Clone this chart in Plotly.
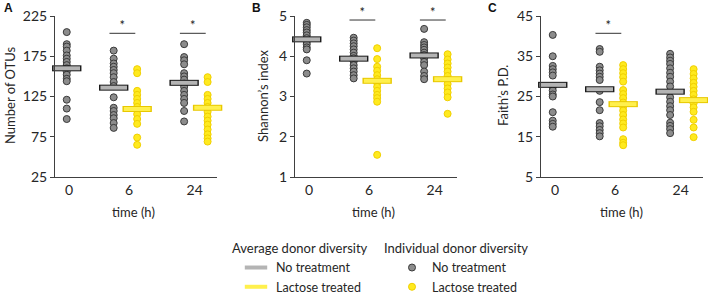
import plotly.graph_objects as go

# ---------------- data ----------------
TIMES = ["0", "6", "24"]

# Panel A: Number of OTUs
A_gray0 = [205, 190, 187, 182, 176, 172, 168, 164, 160, 156, 152, 147, 144, 121, 110, 97]
A_gray6 = [182, 172, 166, 162, 158, 154, 149, 143, 138, 124, 111, 107, 102, 98, 92, 86]
A_yel6 = [159, 154, 132, 127, 122, 117, 112, 108, 103, 97, 91, 74, 65]
A_gray24 = [190, 174, 170, 165, 154, 150, 146, 141, 137, 132, 127, 122, 117, 107, 94]
A_yel24 = [149, 143, 127, 122, 117, 112, 106, 100, 95, 90, 84, 78, 73, 69]
A_gray_mean = [160, 136, 142]
A_yel_mean = [109.5, 111]
A_sig = 203.5

# Panel B: Shannon's index
B_gray0 = [4.83, 4.78, 4.72, 4.65, 4.59, 4.52, 4.45, 4.36, 4.30, 4.22, 4.17, 3.90, 3.57]
B_gray6 = [4.46, 4.39, 4.32, 4.25, 4.17, 4.09, 4.01, 3.95, 3.87, 3.78, 3.70, 3.62, 3.53, 3.45]
B_yel6 = [4.20, 3.93, 3.74, 3.64, 3.53, 3.43, 3.34, 3.24, 3.14, 3.04, 2.96, 2.87, 1.55]
B_gray24 = [4.68, 4.35, 4.28, 4.22, 4.16, 4.09, 4.03, 3.95, 3.86, 3.78, 3.62, 3.51, 3.43]
B_yel24 = [4.05, 3.92, 3.82, 3.72, 3.62, 3.51, 3.41, 3.31, 3.20, 3.10, 2.98, 2.57]
B_gray_mean = [4.42, 3.94, 4.02]
B_yel_mean = [3.39, 3.43]
B_sig = 4.90

# Panel C: Faith's P.D.
C_gray0 = [40.3, 35.0, 32.6, 31.8, 31.0, 30.2, 27.3, 26.5, 25.5, 25.0, 21.1, 19.0, 18.2, 17.5]
C_gray6 = [36.8, 36.1, 32.4, 31.5, 30.7, 29.9, 29.1, 26.4, 23.6, 21.6, 18.4, 17.6, 16.7, 15.9, 15.1]
C_yel6 = [32.8, 31.8, 30.8, 29.8, 28.7, 26.6, 25.6, 24.6, 23.5, 22.5, 21.5, 20.4, 19.3, 18.3, 17.3, 14.4, 13.5, 12.9]
C_gray24 = [35.6, 34.7, 33.9, 33.1, 32.0, 30.9, 29.9, 28.7, 27.5, 24.8, 23.7, 22.6, 21.6, 20.4, 18.5, 17.7, 16.9, 15.9]
C_yel24 = [31.8, 30.6, 29.5, 28.4, 27.4, 26.4, 25.4, 24.3, 23.3, 22.3, 21.2, 19.2, 17.3, 14.9]
C_gray_mean = [27.9, 26.8, 26.2]
C_yel_mean = [23.1, 24.1]
C_sig = 40.7

PANELS = [
    dict(letter="A", ytitle="Number of OTUs", yrange=[25, 225], yticks=[25, 75, 125, 175, 225],
         gray=[A_gray0, A_gray6, A_gray24], yel=[A_yel6, A_yel24],
         gmean=A_gray_mean, ymean=A_yel_mean, sig=A_sig, sig_groups=[1, 2]),
    dict(letter="B", ytitle="Shannon\u2019s index", yrange=[1, 5], yticks=[1, 2, 3, 4, 5],
         gray=[B_gray0, B_gray6, B_gray24], yel=[B_yel6, B_yel24],
         gmean=B_gray_mean, ymean=B_yel_mean, sig=B_sig, sig_groups=[1, 2]),
    dict(letter="C", ytitle="Faith\u2019s P.D.", yrange=[5, 45], yticks=[5, 15, 25, 35, 45],
         gray=[C_gray0, C_gray6, C_gray24], yel=[C_yel6, C_yel24],
         gmean=C_gray_mean, ymean=C_yel_mean, sig=C_sig, sig_groups=[1]),
]

# ---------------- layout constants ----------------
W, H = 708, 296
GRAY_POS = [0, 2, 5]      # slot of the untreated column at 0, 6, 24 h
YEL_POS = [3, 6]          # slot of the lactose column at 6, 24 h
TICK_POS = [0.1, 2.65, 5.45]
XRANGE = [-0.5, 6.4]
AXIS_LEFT = [55, 295, 541]   # px
AXIS_W = 162
Y_TOP, Y_BOT = 16, 177
LETTER_X = [8, 256.5, 492.5]
YTITLE_X = [10, 263, 503]
XTITLE_X = [133, 373, 621]

FONT = "Lato, 'Open Sans', Arial, sans-serif"
TXT = "#262626"
GRAY_FILL, GRAY_LINE = "#8c8c8c", "#3a3a3a"
YEL_FILL, YEL_LINE = "#ffea1f", "#f0cf00"
BAR_GRAY_FILL, BAR_GRAY_LINE = "#b4b4b4", "#1a1a1a"
BAR_YEL_FILL, BAR_YEL_LINE = "#fff04d", "#e8c800"

fig = go.Figure()

for i, p in enumerate(PANELS):
    xa = "x" if i == 0 else f"x{i+1}"
    ya = "y" if i == 0 else f"y{i+1}"
    first = i == 0
    # individual dots, untreated
    gx, gy = [], []
    for g, vals in enumerate(p["gray"]):
        gx += [GRAY_POS[g]] * len(vals)
        gy += vals
    fig.add_trace(go.Scatter(
        x=gx, y=gy, mode="markers", xaxis=xa, yaxis=ya, cliponaxis=False,
        marker=dict(symbol="circle", size=7, color=GRAY_FILL, line=dict(color=GRAY_LINE, width=1)),
        name="No treatment", legend="legend2", legendgroup="ind_no", showlegend=first,
        hoverinfo="skip"))
    yx, yy = [], []
    for g, vals in enumerate(p["yel"]):
        yx += [YEL_POS[g]] * len(vals)
        yy += vals
    fig.add_trace(go.Scatter(
        x=yx, y=yy, mode="markers", xaxis=xa, yaxis=ya, cliponaxis=False,
        marker=dict(symbol="circle", size=7, color=YEL_FILL, line=dict(color=YEL_LINE, width=1)),
        name="Lactose treated", legend="legend2", legendgroup="ind_lac", showlegend=first,
        hoverinfo="skip"))
    # mean bars (outline layer + fill layer)
    for pos, means, fill, edge, nm, grp in [
        (GRAY_POS, p["gmean"], BAR_GRAY_FILL, BAR_GRAY_LINE, "No treatment", "avg_no"),
        (YEL_POS, p["ymean"], BAR_YEL_FILL, BAR_YEL_LINE, "Lactose treated", "avg_lac"),
    ]:
        fig.add_trace(go.Scatter(
            x=pos, y=means, mode="markers", xaxis=xa, yaxis=ya, cliponaxis=False,
            marker=dict(symbol="line-ew", size=21, line=dict(color=edge, width=6)),
            showlegend=False, hoverinfo="skip"))
        fig.add_trace(go.Scatter(
            x=pos, y=means, mode="markers", xaxis=xa, yaxis=ya, cliponaxis=False,
            marker=dict(symbol="line-ew", size=19, line=dict(color=fill, width=4)),
            name=nm, legend="legend", legendgroup=grp, showlegend=first,
            hoverinfo="skip"))
    # significance brackets
    for g in p["sig_groups"]:
        x0, x1 = GRAY_POS[g] - 0.18, YEL_POS[g - 1] - 0.08
        fig.add_trace(go.Scatter(
            x=[x0, x1], y=[p["sig"], p["sig"]], mode="lines", xaxis=xa, yaxis=ya, cliponaxis=False,
            line=dict(color="#333333", width=1), showlegend=False, hoverinfo="skip"))
        fig.add_trace(go.Scatter(
            x=[(x0 + x1) / 2], y=[p["sig"]], mode="text", text=["*"], textposition="top center",
            textfont=dict(family=FONT, size=13, color="#222222"), xaxis=xa, yaxis=ya,
            cliponaxis=False, showlegend=False, hoverinfo="skip"))

    x0f = AXIS_LEFT[i] / W
    x1f = (AXIS_LEFT[i] + AXIS_W) / W
    yd = [(H - Y_BOT) / H, (H - Y_TOP) / H]
    xkey = "xaxis" if i == 0 else f"xaxis{i+1}"
    ykey = "yaxis" if i == 0 else f"yaxis{i+1}"
    fig.update_layout(**{
        xkey: dict(domain=[x0f, x1f], range=XRANGE, anchor=ya, showgrid=False, zeroline=False,
                   showline=True, linecolor="#404040", linewidth=1, ticks="",
                   tickvals=TICK_POS, ticktext=TIMES, automargin=False,
                   tickfont=dict(family=FONT, size=14, color=TXT), fixedrange=True),
        ykey: dict(domain=yd, range=p["yrange"], anchor=xa, showgrid=False, zeroline=False,
                   showline=True, linecolor="#404040", linewidth=1, ticks="outside",
                   ticklen=4, tickcolor="#404040", tickvals=p["yticks"], automargin=False,
                   tickfont=dict(family=FONT, size=14, color=TXT), fixedrange=True),
    })
    # axis titles and panel letters
    fig.add_annotation(text=p["ytitle"], xref="paper", yref="paper",
                       x=YTITLE_X[i] / W, y=(H - 96) / H, textangle=-90,
                       showarrow=False, xanchor="center", yanchor="middle",
                       font=dict(family=FONT, size=13, color=TXT))
    fig.add_annotation(text="time (h)", xref="paper", yref="paper",
                       x=XTITLE_X[i] / W, y=(H - 212) / H,
                       showarrow=False, xanchor="center", yanchor="middle",
                       font=dict(family=FONT, size=13, color=TXT))
    fig.add_annotation(text=f"<b>{p['letter']}</b>", xref="paper", yref="paper",
                       x=LETTER_X[i] / W, y=(H - 8) / H,
                       showarrow=False, xanchor="center", yanchor="middle",
                       font=dict(family="Arial, sans-serif", size=12, color="#111111"))

legend_common = dict(orientation="v", xanchor="left", yanchor="top", bgcolor="rgba(0,0,0,0)",
                     font=dict(family=FONT, size=12.5, color=TXT), tracegroupgap=0,
                     itemclick=False, itemdoubleclick=False)
fig.update_layout(
    width=W, height=H, margin=dict(l=0, r=0, t=0, b=0, autoexpand=False),
    paper_bgcolor="white", plot_bgcolor="white",
    showlegend=True,
    legend=dict(x=230 / W, y=(H - 236) / H, indentation=6,
                title=dict(text="Average donor diversity", font=dict(family=FONT, size=13, color=TXT)),
                **legend_common),
    legend2=dict(x=382 / W, y=(H - 236) / H, indentation=10,
                 title=dict(text="Individual donor diversity", font=dict(family=FONT, size=13, color=TXT)),
                 **legend_common),
)

fig.write_html(
    "out.html",
    config={"displayModeBar": False},
    post_script="document.body.style.margin='0';document.body.style.overflow='hidden';",
)
